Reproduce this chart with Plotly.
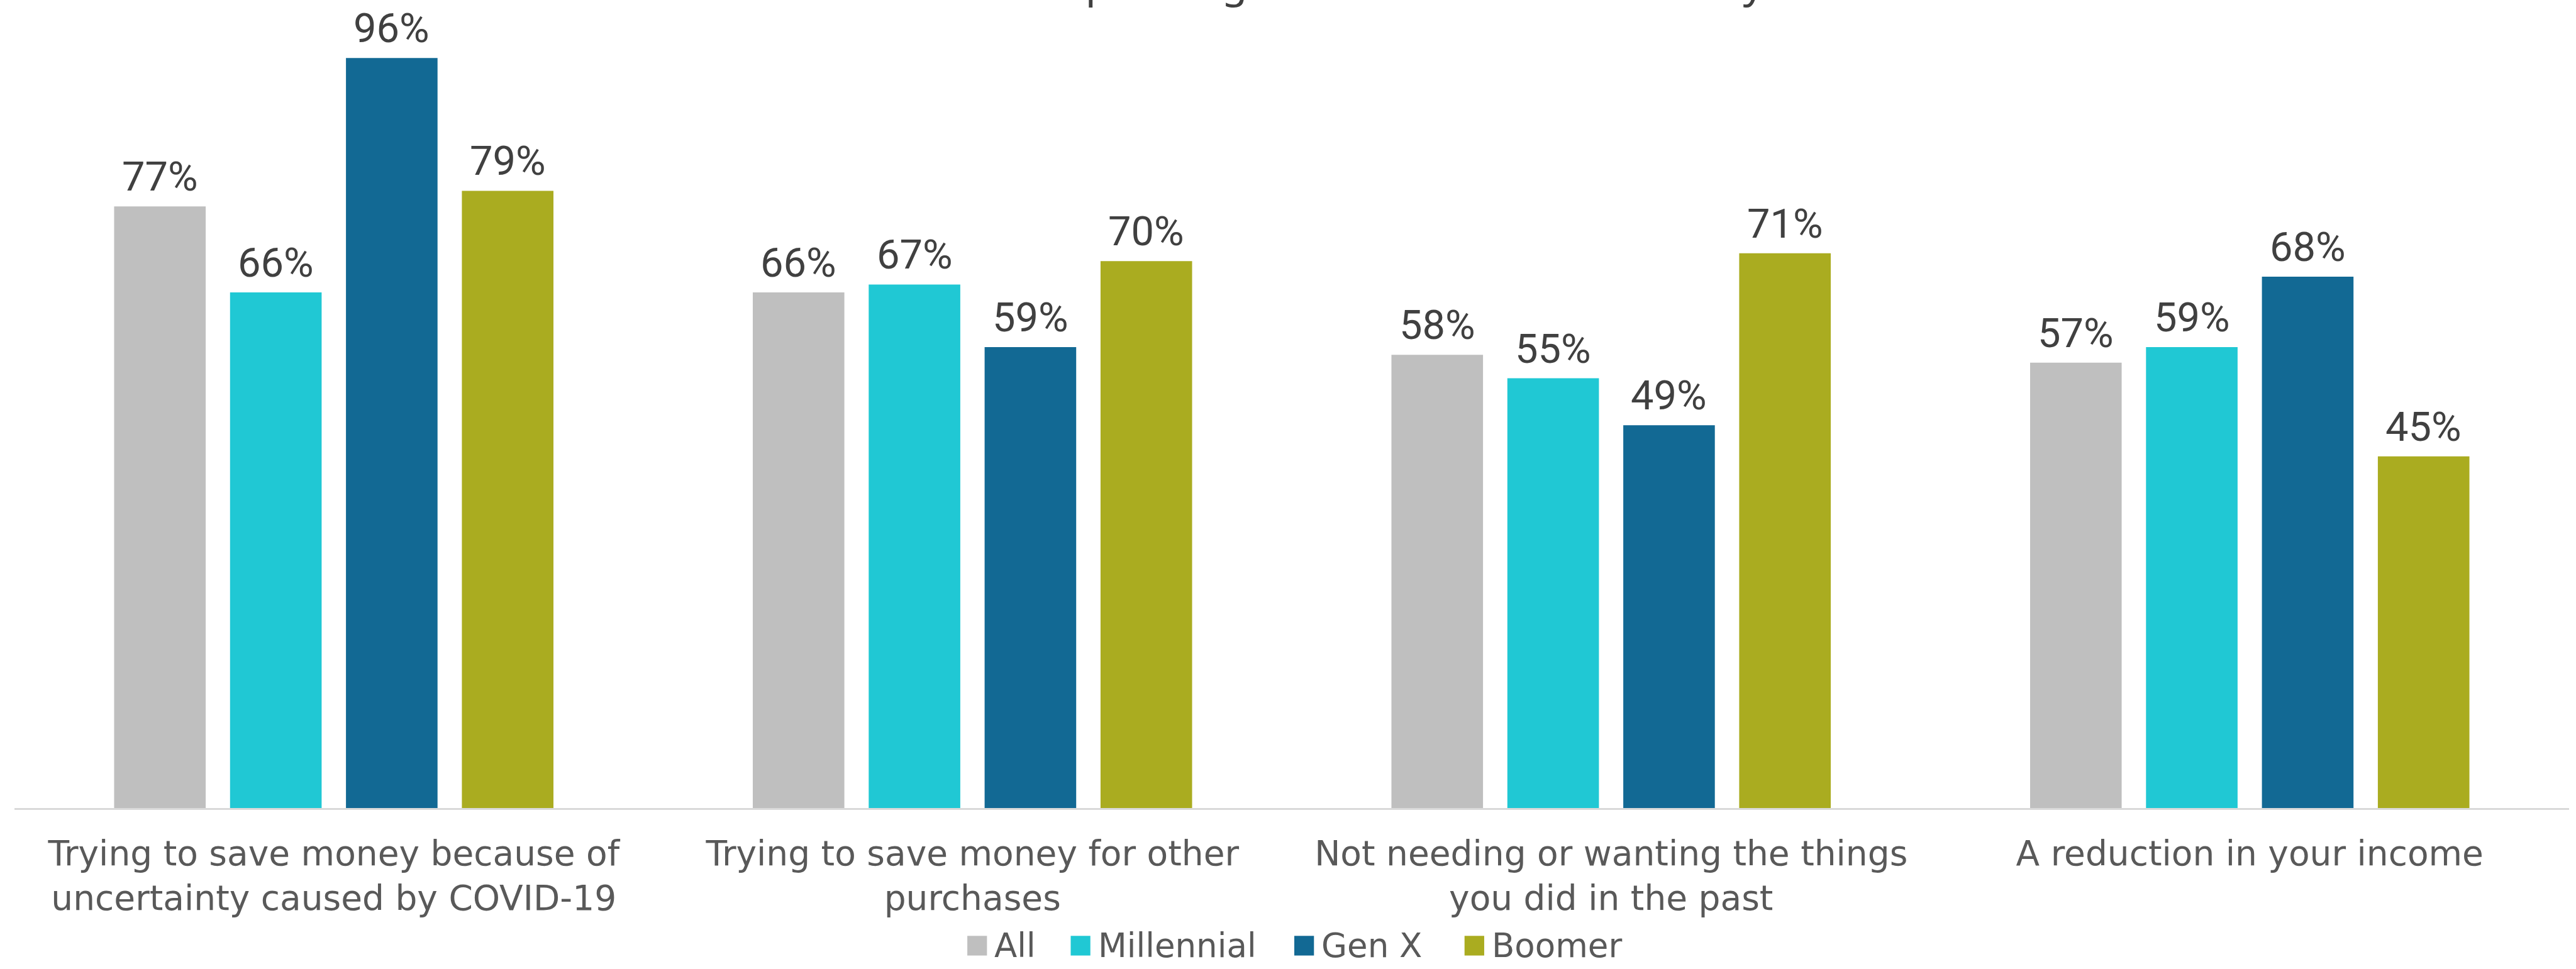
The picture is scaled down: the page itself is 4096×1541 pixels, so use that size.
import plotly.graph_objects as go

# Survey results: reasons for spending less, by generation
categories = [
    "Trying to save money because of<br>uncertainty caused by COVID-19",
    "Trying to save money for other<br>purchases",
    "Not needing or wanting the things<br>you did in the past",
    "A reduction in your income",
]
series_names = ["All", "Millennial", "Gen X", "Boomer"]
all_vals = [77, 66, 58, 57]
millennial_vals = [66, 67, 55, 59]
genx_vals = [96, 59, 49, 68]
boomer_vals = [79, 70, 71, 45]
series_values = [all_vals, millennial_vals, genx_vals, boomer_vals]
colors = ["#BFBFBF", "#20C8D4", "#126994", "#AAAC20"]
title_text = "Reasons for Spending Less Than Usual Currently"

W, H = 4096, 1541
S = W / 4585  # drawing scale

# plot area in pixels
left = 26 * S
right = 4573 * S
top = 0
bottom = 1438 * S
ymax = 1438 / 13.905

BARGAP = 0.274
BARGROUPGAP = 0.21

LABEL_FONT = "Roboto"
TITLE_FONT = "Noto Sans"
TEXT_FONT = "DejaVu Sans"

def px_to_paper(x, y):
    xs = x * S
    ys = y * S
    return (xs - left) / (right - left), (bottom - ys) / (bottom - top)

fig = go.Figure()
for name, vals, col in zip(series_names, series_values, colors):
    fig.add_trace(go.Bar(
        x=categories, y=vals, name=name,
        marker=dict(color=col, line=dict(width=0)),
        showlegend=False,
    ))

annotations = []
shapes = []

# value labels above each bar, offset to the bar's slot within its group
n = len(series_names)
cat_px = (right - left) / len(categories)
slot_px = cat_px * (1 - BARGAP) / n
for i, vals in enumerate(series_values):
    dx = (i - (n - 1) / 2) * slot_px
    for cat, v in zip(categories, vals):
        annotations.append(dict(
            text=f"{v}%", xref="x", yref="y", x=cat, y=v,
            xanchor="center", yanchor="bottom", xshift=dx, yshift=7,
            showarrow=False,
            font=dict(family=LABEL_FONT, size=65, color="#404040")))

# legend drawn as squares with labels
legend_sq = [1722, 1906, 2304, 2607]
leg_cy = 1683
for name, col, x0 in zip(series_names, colors, legend_sq):
    px0, py0 = px_to_paper(x0, leg_cy + 17.5)
    px1, py1 = px_to_paper(x0 + 35, leg_cy - 17.5)
    shapes.append(dict(type="rect", xref="paper", yref="paper",
                       x0=px0, x1=px1, y0=py0, y1=py1,
                       fillcolor=col, line=dict(width=0)))
    tx, ty = px_to_paper(x0 + 46, leg_cy)
    annotations.append(dict(text=name, xref="paper", yref="paper", x=tx, y=ty,
                            xanchor="left", yanchor="middle", showarrow=False,
                            font=dict(family=TEXT_FONT, size=53, color="#595959")))

# chart title, mostly above the top edge
tx, _ = px_to_paper(2302, 0)
annotations.append(dict(text=title_text, xref="paper", yref="paper", x=tx, y=1,
                        xanchor="center", yanchor="bottom", yshift=-17,
                        showarrow=False,
                        font=dict(family=TITLE_FONT, size=66, color="#404040")))

fig.update_layout(
    width=W, height=H,
    margin=dict(l=left, r=W - right, t=top, b=H - bottom),
    paper_bgcolor="white", plot_bgcolor="white",
    barmode="group", bargap=BARGAP, bargroupgap=BARGROUPGAP,
    showlegend=False,
    annotations=annotations, shapes=shapes,
    xaxis=dict(showline=True, linecolor="#D9D9D9", linewidth=2.5,
               ticks="", showgrid=False, zeroline=False,
               tickfont=dict(family=TEXT_FONT, size=55, color="#595959"),
               ticklabelstandoff=22),
    yaxis=dict(range=[0, ymax], visible=False, showgrid=False, zeroline=False,
               fixedrange=True),
)

fig.write_html("out.html")
